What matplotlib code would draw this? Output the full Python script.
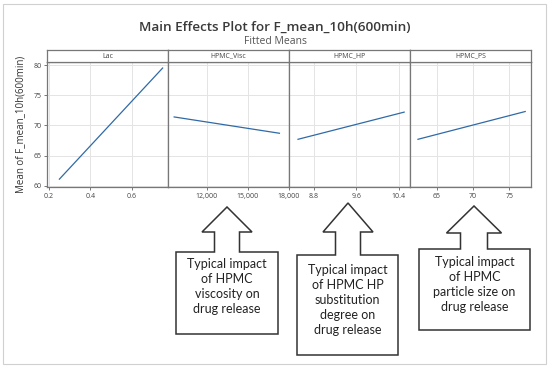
import matplotlib.pyplot as plt
from matplotlib.patches import Polygon, Rectangle

W, H = 550, 368

# fitted means
factors = ['Lac', 'HPMC_Visc', 'HPMC_HP', 'HPMC_PS']
lac_x = [0.25, 0.75]
lac_y = [61.1, 79.5]
visc_x = [9600, 17300]
visc_y = [71.4, 68.7]
hp_x = [8.5, 10.5]
hp_y = [67.7, 72.2]
ps_x = [62.4, 77.2]
ps_y = [67.7, 72.3]

lac_ticks = [0.2, 0.4, 0.6]
visc_ticks = [12000, 15000, 18000]
hp_ticks = [8.8, 9.6, 10.4]
ps_ticks = [65, 70, 75]
y_ticks = [60, 65, 70, 75, 80]

series = [(lac_x, lac_y), (visc_x, visc_y), (hp_x, hp_y), (ps_x, ps_y)]
xticks = [lac_ticks, visc_ticks, hp_ticks, ps_ticks]
xticklabels = [['0.2', '0.4', '0.6'], ['12,000', '15,000', '18,000'],
               ['8.8', '9.6', '10.4'], ['65', '70', '75']]
xlims = [(0.19, 0.776), (9150, 18000), (8.33, 10.61), (61.3, 78.0)]

callouts = [
    'Typical impact\nof HPMC\nviscosity on\ndrug release',
    'Typical impact\nof HPMC HP\nsubstitution\ndegree on\ndrug release',
    'Typical impact\nof HPMC\nparticle size on\ndrug release',
]

plt.rcParams['font.family'] = ['Open Sans', 'DejaVu Sans']

fig = plt.figure(figsize=(W / 100, H / 100), dpi=100)


def fx(px):
    return px / W


def fy(py):
    return 1 - py / H


# outer frame
fig.patches.append(Rectangle((fx(3), fy(364)), fx(543) - fx(0), fy(4) - fy(364),
                             transform=fig.transFigure, fill=False,
                             edgecolor='#d0d0d0', lw=0.8))

fig.text(fx(275), fy(27), 'Main Effects Plot for F_mean_10h(600min)',
         ha='center', va='center', fontsize=9.7, fontweight='semibold',
         color='#3a3a3a')
fig.text(fx(275), fy(41), 'Fitted Means', ha='center', va='center',
         fontsize=7.5, color='#555555')

left, pw, top, strip, bottom = 47, 121, 62, 12, 187
frame_col = '#777777'
line_col = '#2f6aa6'

for i, name in enumerate(factors):
    x0 = left + i * pw
    ax = fig.add_axes([fx(x0), fy(bottom), pw / W, (bottom - top) / H])
    xs, ys = series[i]
    ax.plot(xs, ys, color=line_col, lw=0.9)
    ax.set_xlim(*xlims[i])
    ax.set_ylim(59.8, 80.5)
    ax.set_xticks(xticks[i])
    ax.set_xticklabels(xticklabels[i])
    ax.set_yticks(y_ticks)
    ax.grid(True, color='#e4e4e4', lw=0.7)
    ax.set_axisbelow(True)
    ax.tick_params(labelsize=5, colors='#444444', length=2, width=0.5, pad=2)
    ax.tick_params(axis='y', left=(i == 0), labelleft=(i == 0))
    for s in ax.spines.values():
        s.set_color(frame_col)
        s.set_linewidth(0.9)
    if i == 0:
        ax.set_ylabel('Mean of F_mean_10h(600min)', fontsize=7,
                      color='#333333', labelpad=5)
    # strip on top
    sa = fig.add_axes([fx(x0), fy(top), pw / W, strip / H])
    sa.set_xticks([])
    sa.set_yticks([])
    for s in sa.spines.values():
        s.set_color(frame_col)
        s.set_linewidth(0.9)
    sa.text(0.5, 0.5, name, ha='center', va='center', fontsize=5,
            color='#444444', transform=sa.transAxes)

# arrow callouts: (box left, box right, box top, box bottom, head y, apex y,
#                  head half width, stem half width, text top, arrow x)
boxes = [
    (176, 278, 252, 334, 232, 207, 25, 12.5, 258, 227),
    (297, 398, 255, 355, 232, 203, 25, 12.5, 264, 348),
    (419, 530, 249, 330, 233, 206, 27.5, 13.5, 256, 474),
]
for (bl, br, bt, bb, hy, ay, hw, sw, ty, cx), txt in zip(boxes, callouts):
    pts = [(bl, bb), (bl, bt), (cx - sw, bt), (cx - sw, hy), (cx - hw, hy),
           (cx, ay), (cx + hw, hy), (cx + sw, hy), (cx + sw, bt), (br, bt),
           (br, bb)]
    poly = Polygon([(fx(px), fy(py)) for px, py in pts], closed=True,
                   transform=fig.transFigure, facecolor='white',
                   edgecolor='#333333', lw=1.1)
    fig.patches.append(poly)
    fig.text(fx((bl + br) / 2), fy(ty), txt, ha='center', va='top',
             fontsize=9, color='#222222', linespacing=1.3,
             family=['Lato', 'DejaVu Sans'])

fig.savefig('out.png', dpi=100)
